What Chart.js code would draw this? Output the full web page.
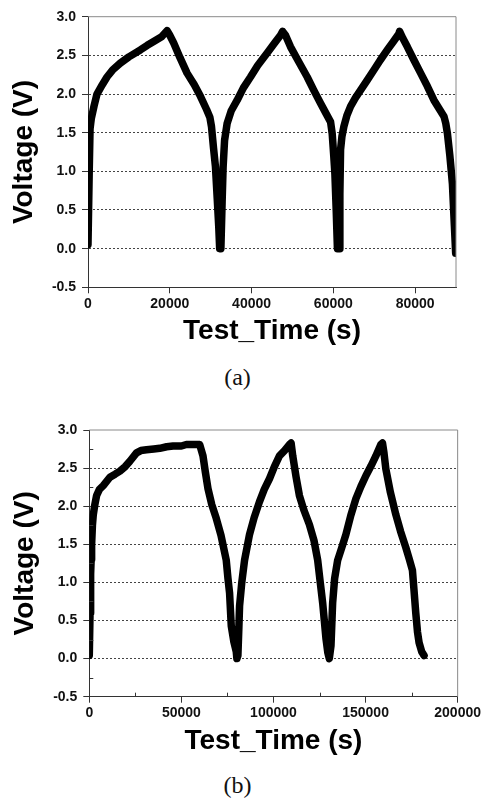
<!DOCTYPE html>
<html>
<head>
<meta charset="utf-8">
<script src="https://cdn.jsdelivr.net/npm/chart.js@4"></script>
<style>
  body { margin: 0; background: #fff; }
  #wrap { position: relative; width: 483px; height: 799px; }
  canvas { position: absolute; left: 0; }
  .cap { position: absolute; width: 483px; left: -4px; text-align: center;
         font-family: "Liberation Serif", "Times New Roman", serif; font-size: 24px; color: #111; }
</style>
</head>
<body>
<div id="wrap">
  <canvas id="chartA" width="483" height="360" style="top:0"></canvas>
  <div class="cap" style="top:364px">(a)</div>
  <canvas id="chartB" width="483" height="370" style="top:395px"></canvas>
  <div class="cap" style="top:772px">(b)</div>
</div>
<script>
// (a) three charge/discharge cycles
const timeA = [0, 300, 500, 800, 1500, 2200, 3500, 4650, 6000, 7900, 10000, 12800, 14500, 16060, 18000, 19340,
  20000, 20960, 22500, 24230, 26000, 27500, 29000, 29800, 30200, 30700, 31170, 31600, 31980, 32200,
  32500, 32800, 33050, 33400, 34030, 35000, 36480, 38000, 39740, 41500, 43820, 45500, 47080, 47600,
  48300, 49530, 51500, 53610, 55200, 56870, 58200, 59320, 59720, 60100, 60380, 60700, 61000,
  61400, 61600, 61770, 62100, 62580, 63300, 64220, 65400, 66670, 68300, 69920, 71500, 73200, 74700, 76040, 76200,
  77000, 78100, 79700, 81350, 83000, 84600, 86000, 87060, 87500, 87900, 88500, 89120, 89600, 89920];
const voltA = [0.05, 1.0, 1.55, 1.68, 1.85, 2.0, 2.12, 2.22, 2.31, 2.40, 2.48, 2.57, 2.63, 2.68, 2.74, 2.82,
  2.76, 2.66, 2.47, 2.27, 2.12, 1.97, 1.80, 1.70, 1.58, 1.30, 1.06, 0.65, 0.28, 0.0,
  0.0, 0.6, 1.06, 1.40, 1.62, 1.78, 1.92, 2.08, 2.22, 2.37, 2.53, 2.65, 2.76, 2.81,
  2.76, 2.61, 2.42, 2.22, 2.05, 1.88, 1.75, 1.64, 1.49, 1.2, 0.97, 0.5, 0.0,
  0.0, 0.7, 1.28, 1.45, 1.58, 1.72, 1.84, 1.95, 2.05, 2.18, 2.31, 2.44, 2.57, 2.68, 2.78, 2.81,
  2.72, 2.61, 2.44, 2.27, 2.10, 1.92, 1.80, 1.71, 1.62, 1.49, 1.20, 0.84, 0.3, -0.06];

// (b) longer first charge
const timeB = [0, 400, 720, 1000, 1260, 1700, 2170, 3000, 3970, 5500, 7580, 11190, 14000, 16610, 19500, 22020,
  25630, 28000, 31050, 35000, 38270, 42000, 45490, 50000, 52710, 56000, 59930,
  61730, 63000, 64440, 66500, 68950, 71500, 74370, 75300, 76170, 77080, 78500, 79790, 80140,
  80690, 81200, 81590, 82800, 84300, 87000, 89500, 92420, 95000, 97830, 100500, 103250, 106000, 108660, 109570,
  110470, 112300, 114080, 116500, 119490, 122000, 124010, 125400, 126720, 127600, 128520, 129500, 130320,
  131230, 132130, 133200, 134840, 137000, 139350, 142000, 144770, 147500, 150180, 153000, 155600, 158300, 159200,
  160000, 161010, 163500, 166430, 169000, 171840, 173800, 175450, 176300, 177260, 178200, 179060, 180500, 181770];
const voltB = [0.04, 0.6, 1.11, 1.3, 1.50, 1.75, 1.89, 2.02, 2.14, 2.22, 2.27, 2.38, 2.42, 2.46, 2.52, 2.59,
  2.70, 2.73, 2.74, 2.75, 2.76, 2.78, 2.79, 2.79, 2.81, 2.81, 2.81,
  2.66, 2.45, 2.23, 2.02, 1.84, 1.62, 1.29, 1.05, 0.86, 0.43, 0.22, 0.09, 0.0,
  0.04, 0.4, 0.69, 1.0, 1.29, 1.63, 1.85, 2.06, 2.22, 2.36, 2.52, 2.66, 2.73, 2.81, 2.83,
  2.66, 2.38, 2.14, 1.95, 1.76, 1.55, 1.29, 1.0, 0.73, 0.5, 0.26, 0.08, 0.0,
  0.17, 0.73, 1.05, 1.29, 1.45, 1.63, 1.88, 2.10, 2.26, 2.40, 2.53, 2.66, 2.81, 2.83,
  2.7, 2.49, 2.18, 1.89, 1.67, 1.46, 1.30, 1.16, 0.9, 0.60, 0.35, 0.21, 0.09, 0.04];

const xTicksA = [0, 20000, 40000, 60000, 80000];
const xTicksB = [0, 50000, 100000, 150000, 200000];
const xMinorB = [25000, 75000, 125000, 175000];
const yTicks = [-0.5, 0, 0.5, 1.0, 1.5, 2.0, 2.5, 3.0];
const yMinor = [-0.25, 0.25, 0.75, 1.25, 1.75, 2.25, 2.75];

const FONT = "'Liberation Sans', Arial, sans-serif";

// gray top/right frame + small inward minor ticks
const framePlugin = {
  id: 'frame',
  afterDraw(chart, args, opts) {
    const {ctx, chartArea: a, scales} = chart;
    ctx.save();
    ctx.lineWidth = 1;
    ctx.strokeStyle = '#8a8a8a';
    ctx.beginPath();
    ctx.moveTo(a.left, a.top);
    ctx.lineTo(a.right, a.top);
    ctx.lineTo(a.right, a.bottom);
    ctx.stroke();
    ctx.strokeStyle = '#333';
    ctx.beginPath();
    (opts.xMinor || []).forEach(v => {
      const px = Math.round(scales.x.getPixelForValue(v)) + 0.5;
      ctx.moveTo(px, a.bottom);
      ctx.lineTo(px, a.bottom - 4);
    });
    (opts.yMinor || []).forEach(v => {
      const py = Math.round(scales.y.getPixelForValue(v)) + 0.5;
      ctx.moveTo(a.left, py);
      ctx.lineTo(a.left + 4, py);
    });
    ctx.stroke();
    ctx.restore();
  }
};

function makeChart(id, time, volt, cfg) {
  const ctx = document.getElementById(id).getContext('2d');
  return new Chart(ctx, {
    type: 'line',
    data: {
      datasets: [{
        data: time.map((t, i) => ({x: t, y: volt[i]})),
        borderColor: '#000',
        borderWidth: 7.5,
        borderJoinStyle: 'round',
        borderCapStyle: 'round',
        pointRadius: 0,
        tension: 0,
      }],
    },
    options: {
      responsive: false,
      animation: false,
      layout: {padding: {top: cfg.top, right: cfg.right, left: 0, bottom: 0}},
      plugins: {
        legend: {display: false},
        tooltip: {enabled: false},
        frame: {xMinor: cfg.xMinor, yMinor: cfg.yMinor},
      },
      scales: {
        x: {
          type: 'linear',
          min: 0,
          max: cfg.xMax,
          afterBuildTicks: s => { s.ticks = cfg.xTicks.map(v => ({value: v})); },
          afterFit: s => { s.height = cfg.xHeight; },
          grid: {drawOnChartArea: false, tickLength: 6, tickColor: '#333'},
          border: {color: '#333', width: 1},
          ticks: {
            color: '#111',
            padding: 2,
            maxRotation: 0,
            font: {family: FONT, size: 14, weight: 'bold'},
            callback: v => String(v),
          },
          title: {
            display: true,
            text: 'Test_Time (s)',
            color: '#000',
            font: {family: FONT, size: 28, weight: 'bold'},
            padding: {top: 0, bottom: cfg.titlePad},
          },
        },
        y: {
          min: -0.5,
          max: 3.0,
          afterBuildTicks: s => { s.ticks = yTicks.map(v => ({value: v})); },
          afterFit: s => { s.width = cfg.yWidth; },
          grid: {
            color: c => (c.tick && (c.tick.value === -0.5 || c.tick.value === 3)) ? 'rgba(0,0,0,0)' : '#444',
            tickColor: '#333',
            tickLength: 6,
            lineWidth: 1,
          },
          border: {color: '#333', width: 1, dash: [2, 2]},
          ticks: {
            color: '#111',
            padding: 6,
            font: {family: FONT, size: 14, weight: 'bold'},
            callback: v => v.toFixed(1),
          },
          title: {
            display: true,
            text: 'Voltage (V)',
            color: '#000',
            font: {family: FONT, size: 28, weight: 'bold'},
            padding: {top: cfg.yTitlePad, bottom: 0},
          },
        },
      },
    },
    plugins: [framePlugin],
  });
}

makeChart('chartA', timeA, voltA, {
  top: 16.7, right: 27, xMax: 90000, xTicks: xTicksA, xHeight: 72.7,
  titlePad: 12, yWidth: 88, yTitlePad: 7.5,
});

makeChart('chartB', timeB, voltB, {
  top: 35, right: 24.7, xMax: 200000, xTicks: xTicksB, xHeight: 68.3,
  titlePad: 6.5, yWidth: 89.3, yTitlePad: 8.5, xMinor: xMinorB, yMinor: yMinor,
});
</script>
</body>
</html>
